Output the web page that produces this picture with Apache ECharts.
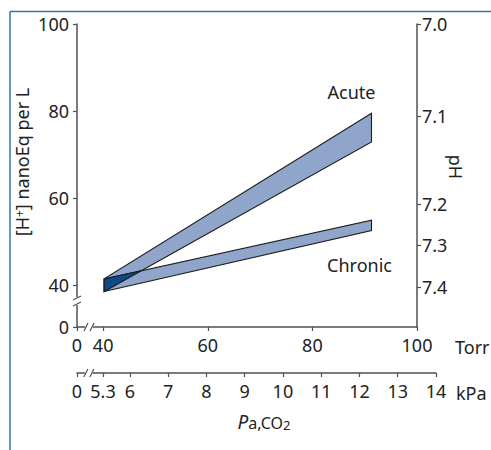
<!DOCTYPE html>
<html>
<head>
<meta charset="utf-8">
<title>PaCO2 and [H+]</title>
<script src="https://cdn.jsdelivr.net/npm/echarts@6.0.0/dist/echarts.min.js"></script>
<style>
html,body{margin:0;padding:0;background:#fff;}
#chart{width:491px;height:450px;}
</style>
</head>
<body>
<div id="chart"></div>
<script>
// PaCO2 (Torr) where both bands start and end
var bandPco2 = [40.2, 91.3];
// [H+] nanoEq per L, lower and upper edge of each band at those two ends
var acuteLow = [38.5, 72.9];
var acuteHigh = [41.4, 79.5];
var chronicLow = [38.5, 52.5];
var chronicHigh = [41.4, 54.9];
var bandNames = ['Acute', 'Chronic'];

// tick labels
var hTicks = [40, 60, 80, 100];
var torrTicks = [40, 60, 80, 100];
var kpaTicks = [5.3, 6, 7, 8, 9, 10, 11, 12, 13, 14];
var phLabels = ['7.0', '7.1', '7.2', '7.3', '7.4'];
var phAt = [100, 78.9, 58.6, 49.2, 39.5]; // [H+] level where each pH tick is drawn

// broken axes: lowest visible value gets the label 0
var hMin = 30.34, torrMin = 35, kpaMin = 4.62;
var hBreak = 36.3, torrBreak = 37.3, kpaBreak = 4.93;

var font = "'Noto Sans', sans-serif";
var fs = 18;
var ink = '#222';
var axisGrey = '#505050';
var bandFill = '#8fa5c9';
var overlapFill = '#0b4b87';
var edge = '#1c1c1c';

// where the acute lower edge meets the chronic upper edge
var t = (chronicHigh[0] - acuteLow[0]) / ((acuteLow[1] - acuteLow[0]) - (chronicHigh[1] - chronicHigh[0]));
var xCross = bandPco2[0] + t * (bandPco2[1] - bandPco2[0]);
var hCross = acuteLow[0] + t * (acuteLow[1] - acuteLow[0]);

var labelOffset = [[-20, -21], [-12, 34]];

function withZero(min, list) { return [min].concat(list); }

function valueAxis(extra) {
	var base = {
		type: 'value',
		splitLine: {show: false},
		axisLine: {show: true, onZero: false, lineStyle: {color: axisGrey, width: 1.5}},
		axisTick: {show: true, length: 4, lineStyle: {color: axisGrey, width: 1.2}},
		axisLabel: {color: ink, fontSize: fs, fontFamily: font, margin: 8}
	};
	for (var k in extra) {
		if (typeof extra[k] === 'object' && base[k] && !Array.isArray(extra[k])) {
			for (var j in extra[k]) base[k][j] = extra[k][j];
		} else {
			base[k] = extra[k];
		}
	}
	return base;
}

var chart = echarts.init(document.getElementById('chart'), null, {renderer: 'svg'});

var option = {
	animation: false,
	grid: [
		{left: 77, right: 74, top: 24, bottom: 123},
		{left: 77, right: 55, top: 24, bottom: 77}
	],
	xAxis: [
		valueAxis({
			gridIndex: 0, min: torrMin, max: 100,
			axisTick: {customValues: withZero(torrMin, torrTicks)},
			axisLabel: {
				customValues: withZero(torrMin, torrTicks), margin: 9,
				formatter: function(v){ return v === torrMin ? '0' : String(v); }
			}
		}),
		valueAxis({
			gridIndex: 1, min: kpaMin, max: 14,
			axisTick: {customValues: withZero(kpaMin, kpaTicks)},
			axisLabel: {
				customValues: withZero(kpaMin, kpaTicks), margin: 9,
				formatter: function(v){ return v === kpaMin ? '0' : String(v); }
			}
		})
	],
	yAxis: [
		valueAxis({
			gridIndex: 0, min: hMin, max: 100,
			axisTick: {customValues: withZero(hMin, hTicks)},
			axisLabel: {
				customValues: withZero(hMin, hTicks),
				formatter: function(v){ return v === hMin ? '0' : String(v); }
			}
		}),
		valueAxis({
			gridIndex: 0, position: 'right', min: hMin, max: 100,
			axisTick: {customValues: phAt},
			axisLabel: {
				customValues: phAt, margin: 5,
				formatter: function(v){ return phLabels[phAt.indexOf(v)]; }
			}
		}),
		{type: 'value', gridIndex: 1, min: 0, max: 1, show: false}
	],
	series: [
		{
			type: 'custom',
			name: 'bands',
			xAxisIndex: 0,
			yAxisIndex: 0,
			clip: false,
			data: [
				[bandPco2[0], bandPco2[1], acuteLow[0], acuteLow[1], acuteHigh[0], acuteHigh[1]],
				[bandPco2[0], bandPco2[1], chronicLow[0], chronicLow[1], chronicHigh[0], chronicHigh[1]]
			],
			renderItem: function(params, api){
				var x0 = api.value(0), x1 = api.value(1);
				var pts = [
					api.coord([x0, api.value(2)]),
					api.coord([x1, api.value(3)]),
					api.coord([x1, api.value(5)]),
					api.coord([x0, api.value(4)])
				];
				var i = params.dataIndex;
				var anchor = i === 0 ? pts[2] : pts[1];
				return {
					type: 'group',
					children: [
						{
							type: 'polygon',
							shape: {points: pts},
							style: {fill: bandFill, stroke: edge, lineWidth: 1.1, lineJoin: 'miter'}
						},
						{
							type: 'text',
							x: anchor[0] + labelOffset[i][0],
							y: anchor[1] + labelOffset[i][1],
							style: {
								text: bandNames[i], fill: ink, font: fs + 'px ' + font,
								align: 'center', verticalAlign: 'middle'
							}
						}
					]
				};
			}
		},
		{
			type: 'custom',
			name: 'overlap',
			xAxisIndex: 0,
			yAxisIndex: 0,
			clip: false,
			data: [[bandPco2[0], acuteLow[0], bandPco2[0], chronicHigh[0], xCross, hCross]],
			renderItem: function(params, api){
				return {
					type: 'polygon',
					shape: {points: [
						api.coord([api.value(0), api.value(1)]),
						api.coord([api.value(2), api.value(3)]),
						api.coord([api.value(4), api.value(5)])
					]},
					style: {fill: overlapFill, stroke: edge, lineWidth: 1.1}
				};
			}
		}
	]
};

chart.setOption(option);

// decorations: frame, axis names, break marks
var yLeft = chart.convertToPixel({xAxisIndex: 0}, torrMin);
var yBreakPx = chart.convertToPixel({yAxisIndex: 0}, hBreak);
var torrAxisY = chart.convertToPixel({yAxisIndex: 0}, hMin);
var torrBreakPx = chart.convertToPixel({xAxisIndex: 0}, torrBreak);
var kpaAxisY = chart.convertToPixel({yAxisIndex: 2}, 0);
var kpaBreakPx = chart.convertToPixel({xAxisIndex: 1}, kpaBreak);

function slash(x1, y1, x2, y2){
	return {type: 'line', z: 100, shape: {x1: x1, y1: y1, x2: x2, y2: y2},
		style: {stroke: axisGrey, lineWidth: 1.2}};
}
function gap(x, y, w, h){
	return {type: 'rect', z: 99, shape: {x: x, y: y, width: w, height: h}, style: {fill: '#fff'}};
}
function xBreak(px, py){
	return [
		gap(px - 4, py - 3, 8, 6),
		slash(px - 5, py + 4, px - 1, py - 4),
		slash(px + 1, py + 4, px + 5, py - 4)
	];
}

var graphics = [
	{type: 'line', z: 100, shape: {x1: 10, y1: 11.5, x2: 491, y2: 11.5}, style: {stroke: '#3a72b0', lineWidth: 1.5}},
	{type: 'line', z: 100, shape: {x1: 10, y1: 11.5, x2: 10, y2: 450}, style: {stroke: '#3a72b0', lineWidth: 1.5}},
	{
		type: 'text', z: 100, x: 25, y: 162, rotation: Math.PI / 2,
		style: {
			text: '{m|[H}{sup|+}{m|] nanoEq per L}',
			align: 'center', verticalAlign: 'middle',
			rich: {
				m: {fontSize: fs, fontFamily: font, fill: ink, lineHeight: 24, verticalAlign: 'top'},
				sup: {fontSize: 12, fontFamily: font, fill: ink, lineHeight: 10, verticalAlign: 'top'}
			}
		}
	},
	{
		type: 'text', z: 100, x: 456, y: 167, rotation: -Math.PI / 2,
		style: {text: 'pH', font: fs + 'px ' + font, fill: ink, align: 'center', verticalAlign: 'middle'}
	},
	{
		type: 'text', z: 100, x: 455, y: torrAxisY + 20,
		style: {text: 'Torr', font: fs + 'px ' + font, fill: ink, align: 'left', verticalAlign: 'middle'}
	},
	{
		type: 'text', z: 100, x: 456, y: kpaAxisY + 20,
		style: {text: 'kPa', font: fs + 'px ' + font, fill: ink, align: 'left', verticalAlign: 'middle'}
	},
	{
		type: 'text', z: 100, x: 264, y: 419,
		style: {
			text: '{p|P}{a|a,CO}{sub|2}',
			align: 'center', verticalAlign: 'middle',
			rich: {
				p: {fontSize: 19, fontStyle: 'italic', fontFamily: font, fill: ink, lineHeight: 24, verticalAlign: 'bottom'},
				a: {fontSize: 16, fontFamily: font, fill: ink, lineHeight: 22, verticalAlign: 'bottom'},
				sub: {fontSize: 13, fontFamily: font, fill: ink, lineHeight: 10, verticalAlign: 'bottom'}
			}
		}
	},
	// break on the [H+] axis
	gap(yLeft - 3, yBreakPx - 4, 6, 8),
	slash(yLeft - 4, yBreakPx - 1, yLeft + 4, yBreakPx - 5),
	slash(yLeft - 4, yBreakPx + 5, yLeft + 4, yBreakPx + 1)
].concat(xBreak(torrBreakPx, torrAxisY), xBreak(kpaBreakPx, kpaAxisY));

chart.setOption({graphic: graphics});
</script>
</body>
</html>
